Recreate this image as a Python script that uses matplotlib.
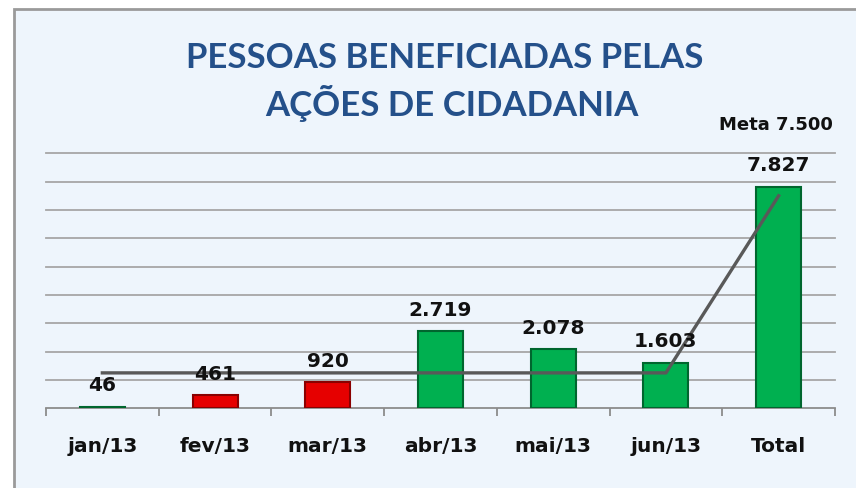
import matplotlib
matplotlib.use("Agg")
import matplotlib.pyplot as plt
from matplotlib.patches import Rectangle

categories = ["jan/13", "fev/13", "mar/13", "abr/13", "mai/13", "jun/13", "Total"]
values = [46, 461, 920, 2719, 2078, 1603, 7827]
value_labels = ["46", "461", "920", "2.719", "2.078", "1.603", "7.827"]
meta = [1250, 1250, 1250, 1250, 1250, 1250, 7500]
meta_label = "Meta 7.500"
title_lines = ["PESSOAS BENEFICIADAS PELAS", "AÇÕES DE CIDADANIA"]


def main():
    W, H = 856, 489
    fig = plt.figure(figsize=(W / 100, H / 100), dpi=100)
    fig.patch.set_facecolor("white")

    # chart frame (light blue panel with grey border on top/left)
    frame = Rectangle((14 / W, -0.05), 1.0, 1 - 10 / H + 0.05,
                      transform=fig.transFigure, facecolor="#EEF5FC",
                      edgecolor="#9A9A9A", linewidth=2.0, zorder=-10)
    fig.patches.append(frame)

    ax = fig.add_axes([46 / W, 79.7 / H, (835 - 46) / W, (409.3 - 154.3) / H])
    ax.set_facecolor("none")

    x = list(range(len(categories)))
    colors = ["#00B050" if i != 1 and i != 2 else "#E60000" for i in x]
    edges = ["#00662E" if c == "#00B050" else "#8A0000" for c in colors]

    ax.bar(x, values, width=0.4, color=colors, edgecolor=edges,
           linewidth=1.5, zorder=3)

    ax.plot(x, meta, color="#595959", linewidth=2.4, zorder=4)

    for xi, v, lab in zip(x, values, value_labels):
        ax.annotate(lab, (xi, v), xytext=(0, 9), textcoords="offset points",
                    ha="center", va="bottom", fontsize=14.5, fontweight="bold",
                    color="#111111", zorder=5)

    ax.set_xlim(-0.5, 6.5)
    ax.set_ylim(0, 9000)
    ax.set_yticks(range(1000, 9001, 1000))
    ax.yaxis.grid(True, color="#A6A6A6", linewidth=1.3, zorder=1)
    for gl in ax.yaxis.get_gridlines():
        gl.set_clip_on(False)
    ax.tick_params(axis="y", left=False, labelleft=False)

    ax.set_xticks([i + 0.5 for i in range(-1, 7)], minor=False)
    ax.set_xticklabels([])
    ax.set_xticks(x, minor=True)
    ax.set_xticklabels(categories, minor=True, fontsize=14.5,
                       fontweight="bold", color="#111111")
    ax.tick_params(axis="x", which="major", length=6, width=1.3,
                   color="#8C8C8C", direction="out")
    ax.tick_params(axis="x", which="minor", length=0, pad=20)

    for s in ["top", "right", "left"]:
        ax.spines[s].set_visible(False)
    ax.spines["bottom"].set_color("#8C8C8C")
    ax.spines["bottom"].set_linewidth(1.3)

    fig.text(445 / W, 1 - 58 / H, title_lines[0], ha="center", va="center",
             fontsize=25, fontweight="bold", color="#24508A", family="Lato")
    fig.text(452 / W, 1 - 104 / H, title_lines[1], ha="center", va="center",
             fontsize=25, fontweight="bold", color="#24508A", family="Lato")
    fig.text(776 / W, 1 - 125 / H, meta_label, ha="center", va="center",
             fontsize=13, fontweight="bold", color="#111111")

    fig.savefig("out.png", dpi=100)


if __name__ == "__main__":
    main()
